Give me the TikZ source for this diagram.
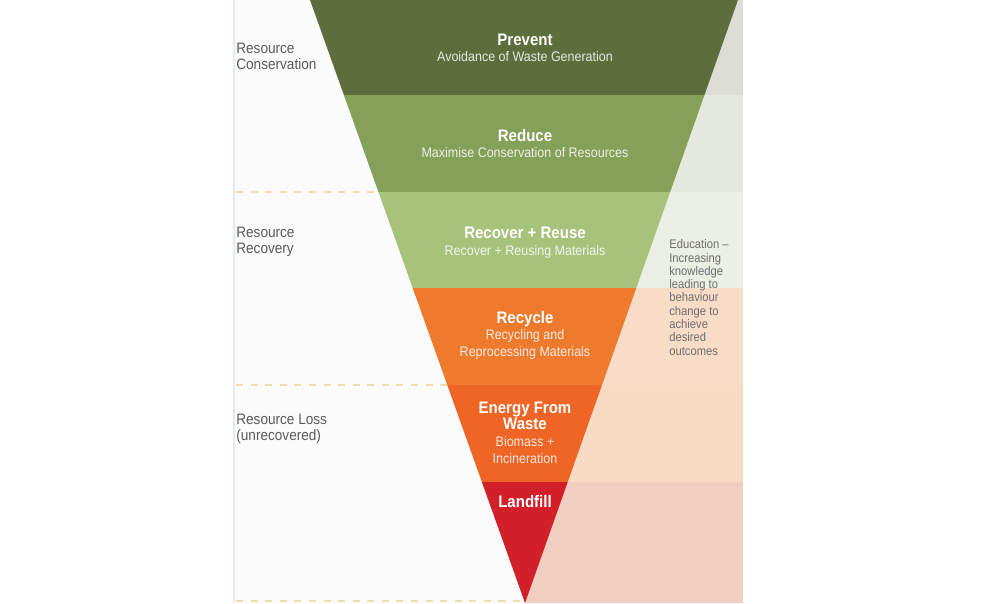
\documentclass[tikz,border=0pt]{standalone}
\usepackage{fontspec}
\setmainfont{Liberation Sans}[FakeStretch=0.9]
\usetikzlibrary{positioning}

\begin{document}
\begin{tikzpicture}[x=0.02cm, y=-0.02cm]
    	\def\funnel{(310,0) -- (738,0) -- (525,603) -- cycle} %waste funnel

    	\definecolor{prevent green}{HTML}{5D6D3B}
    	\definecolor{reduce green}{HTML}{85A059}
    	\definecolor{recover green}{HTML}{A6C27B}
    	\definecolor{recycle orange}{HTML}{EE7A2E}
    	\definecolor{energy orange}{HTML}{EF6526}
    	\definecolor{landfill red}{HTML}{D2202B}
    	\definecolor{prevent shade}{HTML}{DCDDD5}
    	\definecolor{reduce shade}{HTML}{E5E8DD}
    	\definecolor{recover shade}{HTML}{EBEFE4}
    	\definecolor{recycle shade}{HTML}{F9DCC7}
    	\definecolor{energy shade}{HTML}{F8DAC5}
    	\definecolor{landfill shade}{HTML}{F1CFC0}
    	\definecolor{side grey}{HTML}{5A5A5A}
    	\definecolor{edu grey}{HTML}{6E6E6E}
    	\definecolor{level yellow}{HTML}{F0DFA8}
    	\definecolor{panel white}{HTML}{FBFBFB}
    	\definecolor{panel rule}{HTML}{E3EAF2}

    	\tikzset{
    		band title/.style={font=\bfseries\fontsize{9.5}{9}\selectfont, text=white, align=center, inner sep=0pt, anchor=base},
    		band note/.style={font=\fontsize{7.9}{9.5}\selectfont, text=white, text opacity=0.85, align=center, inner sep=0pt, anchor=base},
    		side label/.style={font=\fontsize{8.6}{9.1}\selectfont, text=side grey, align=left, inner sep=0pt, anchor=base west},
    		edu label/.style={font=\fontsize{7.1}{7.56}\selectfont, text=edu grey, align=left, inner sep=0pt, anchor=base west},
    		level line/.style={draw=level yellow, line width=0.6pt, dash pattern=on 4pt off 4.3pt},
    	}

    	\useasboundingbox[fill=white] (0,0) rectangle (1000,603);

    	% left panel and levels
    	\fill[panel white] (233,0) rectangle (525,603);
    	\draw[panel rule, line width=0.8pt] (234,0) -- (234,603);
    	\foreach \ylev in {192,385,601}
    		\draw[level line] (236,\ylev) -- (520,\ylev);

    	% right panel
    	\foreach \ytop/\ybot/\col in {0/95/prevent shade, 95/192/reduce shade, 192/288/recover shade, 288/385/recycle shade, 385/482/energy shade, 482/603/landfill shade}
    		\fill[\col] (525,\ytop) rectangle (743,\ybot);

    	\begin{scope}
    		\clip \funnel;
    		\foreach \ytop/\ybot/\col in {0/95/prevent green, 95/192/reduce green, 192/288/recover green, 288/385/recycle orange, 385/482/energy orange, 482/603/landfill red}
    			\fill[\col] (300,\ytop) rectangle (750,\ybot);
    	\end{scope}

    	% multi-line nodes sit on the baseline of their last line
    	\node[band title] (prevent) at (525,45) {Prevent};
    	\node[band note] (prevent note) at (525,61) {Avoidance of Waste Generation};
    	\node[band title] (reduce) at (525,141) {Reduce};
    	\node[band note] (reduce note) at (525,157) {Maximise Conservation of Resources};
    	\node[band title] (recover) at (525,238) {Recover + Reuse};
    	\node[band note] (recover note) at (525,255) {Recover + Reusing Materials};
    	\node[band title] (recycle) at (525,323) {Recycle};
    	\node[band note] (recycle note) at (525,356) {Recycling and\\Reprocessing Materials};
    	\node[band title] (energy) at (525,429) {Energy From\\Waste};
    	\node[band note] (energy note) at (525,463) {Biomass +\\Incineration};
    	\node[band title] (landfill) at (525,507) {Landfill};

    	\node[side label] (conservation) at (236,69) {Resource\\Conservation};
    	\node[side label] (recovery) at (236,253) {Resource\\Recovery};
    	\node[side label] (loss) at (236,440) {Resource Loss\\(unrecovered)};

    	\node[edu label] (education) at (669,355) {Education --\\Increasing\\knowledge\\leading to\\behaviour\\change to\\achieve\\desired\\outcomes};
\end{tikzpicture}
\end{document}
